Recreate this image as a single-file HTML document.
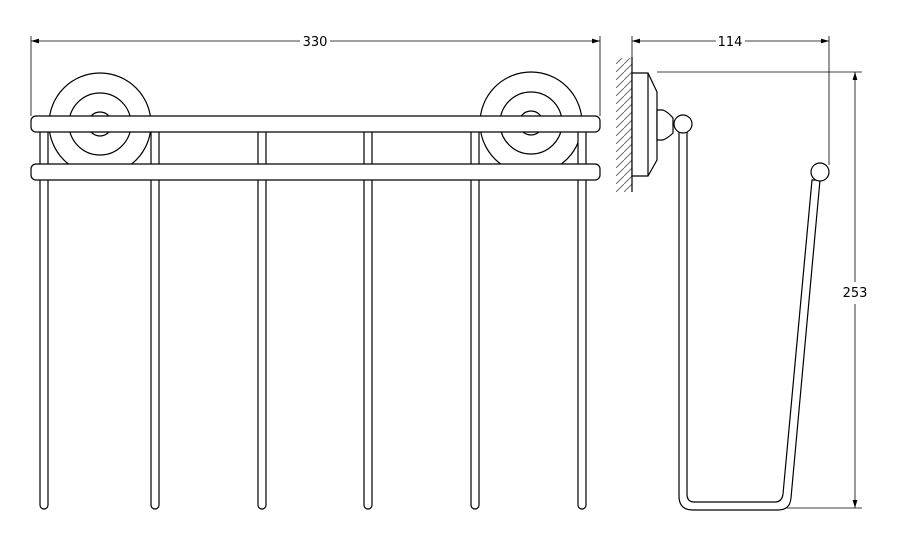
<!DOCTYPE html>
<html><head><style>body{margin:0;background:#fff}svg{display:block}</style></head><body>
<svg width="900" height="541" viewBox="0 0 900 541" xmlns="http://www.w3.org/2000/svg" font-family="DejaVu Sans, Liberation Sans, sans-serif">
<defs>
<marker id="a" viewBox="0 0 10 6" refX="10" refY="3" markerWidth="10" markerHeight="6" orient="auto-start-reverse"><path d="M0,0 L10,3 L0,6 z" fill="#000"/></marker>
<pattern id="h" width="8" height="8" patternUnits="userSpaceOnUse"><path d="M0,8 L8,0" stroke="#555" stroke-width="0.8"/></pattern>
</defs>
<g stroke="#000" stroke-width="0.8" fill="none">
<line x1="31" y1="36" x2="31" y2="116"/>
<line x1="600" y1="36" x2="600" y2="116"/>
<line x1="31" y1="41" x2="300" y2="41" marker-start="url(#a)"/>
<line x1="330" y1="41" x2="600" y2="41" marker-end="url(#a)"/>
<line x1="632" y1="36" x2="632" y2="58"/>
<line x1="829" y1="36" x2="829" y2="165"/>
<line x1="632" y1="41" x2="716" y2="41" marker-start="url(#a)"/>
<line x1="745" y1="41" x2="829" y2="41" marker-end="url(#a)"/>
<line x1="657" y1="72" x2="862" y2="72"/>
<line x1="785" y1="508" x2="862" y2="508"/>
<line x1="855" y1="72" x2="855" y2="282" marker-start="url(#a)"/>
<line x1="855" y1="304" x2="855" y2="508" marker-end="url(#a)"/>
</g>
<g font-size="13" fill="#000">
<text x="315" y="46" text-anchor="middle">330</text>
<text x="730" y="46" text-anchor="middle">114</text>
<text x="855" y="297" text-anchor="middle">253</text>
</g>
<g stroke="#000" stroke-width="1.2" fill="none">
<circle cx="100" cy="124" r="51"/><circle cx="100" cy="124" r="31"/><circle cx="100" cy="124" r="12"/>
<circle cx="531" cy="123" r="51"/><circle cx="531" cy="123" r="31"/><circle cx="531" cy="123" r="12"/>
</g>
<g stroke="#000" stroke-width="1.2" fill="#fff">
<rect x="40" y="128" width="8" height="381" rx="4"/>
<rect x="151" y="128" width="8" height="381" rx="4"/>
<rect x="258" y="128" width="8" height="381" rx="4"/>
<rect x="364" y="128" width="8" height="381" rx="4"/>
<rect x="471" y="128" width="8" height="381" rx="4"/>
<rect x="578" y="128" width="8" height="381" rx="4"/>
<rect x="31" y="116" width="569" height="16" rx="5"/>
<rect x="31" y="164" width="569" height="16" rx="5"/>
</g>
<rect x="616" y="58" width="16" height="134" fill="url(#h)"/>
<g stroke="#000" stroke-width="1.2" fill="#fff">
<line x1="632" y1="57" x2="632" y2="192"/>
<path d="M632,73 H648 L657,92 V160 L648,176 H632 Z"/>
<line x1="648" y1="73" x2="648" y2="176"/>
<path d="M657,110 H663 Q668,112 673,118 V133 Q668,138 663,140 H657 Z"/>
<path d="M679,130 V496 Q679,510 693,510 H778 Q790,510 791,498 L820,180 L812,180 L783,494 Q782,502 775,502 H694 Q687,502 687,494 V130" />
<circle cx="683" cy="124" r="9"/>
<circle cx="820" cy="172" r="9"/>
</g>
</svg>
</body></html>
